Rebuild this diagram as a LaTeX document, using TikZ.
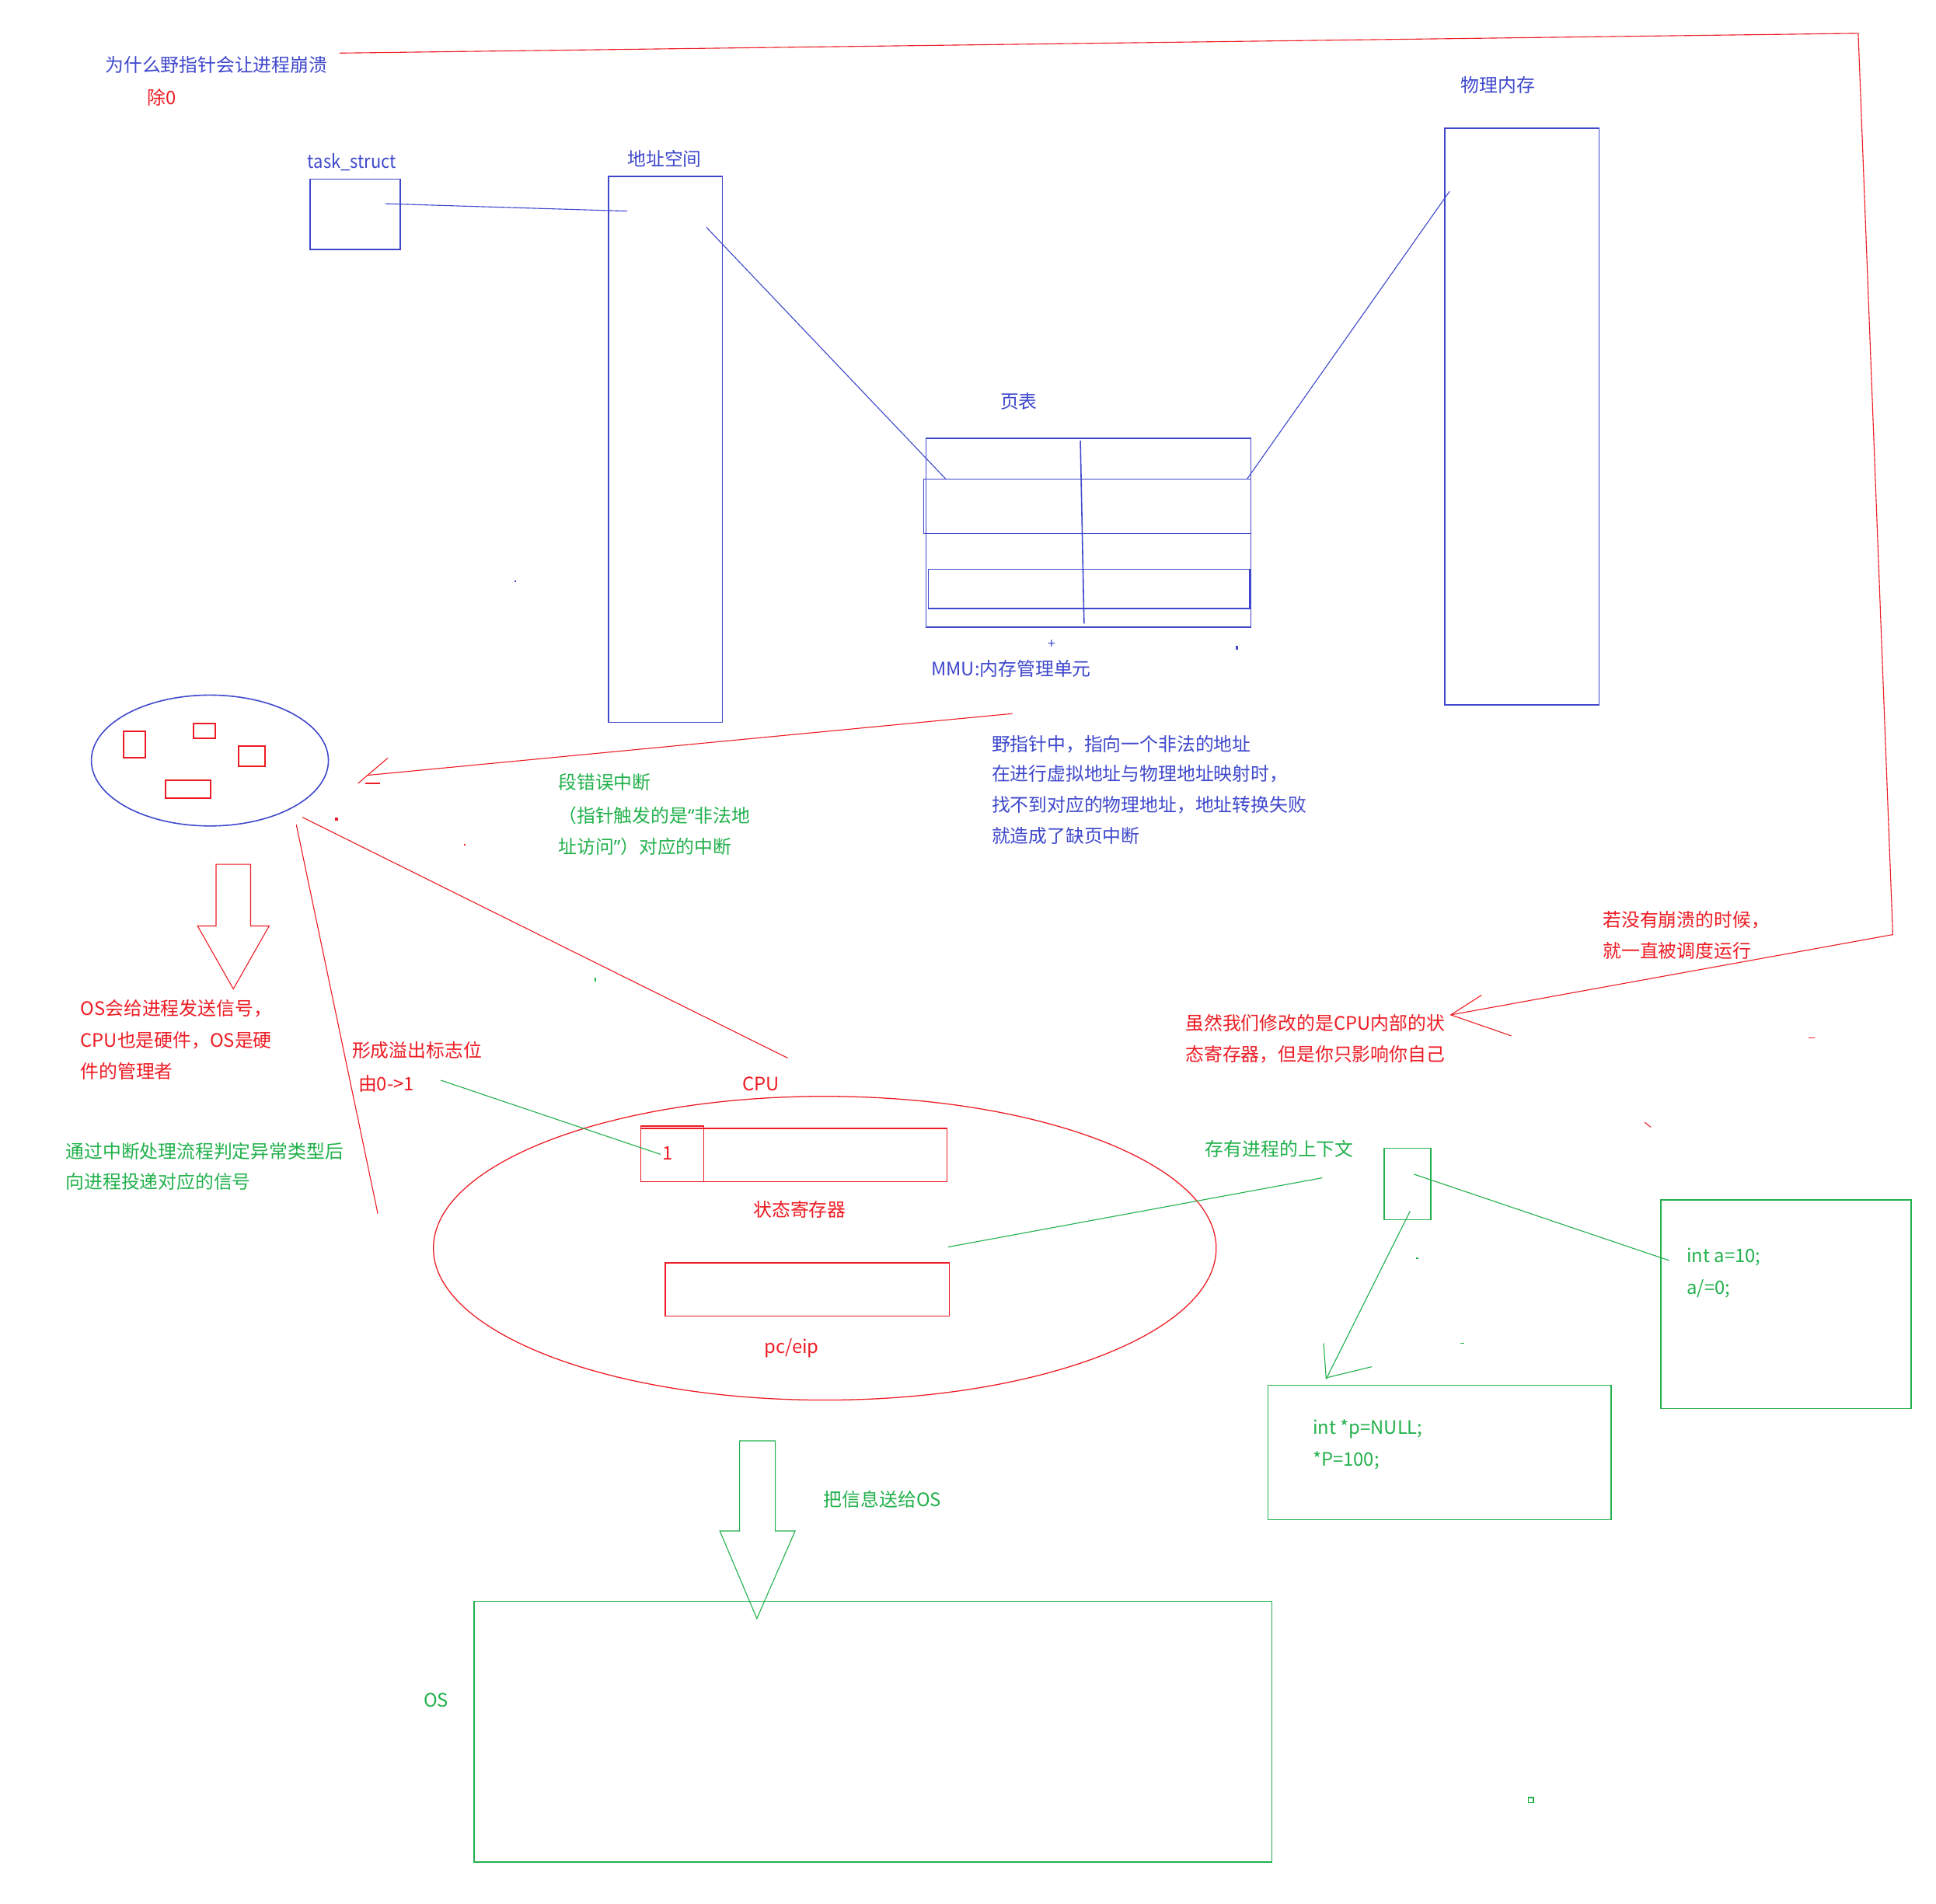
\documentclass[tikz,border=0pt]{standalone}
\usepackage{fontspec}
\setmainfont{Noto Sans CJK SC}
\newfontfamily\qfont{Noto Sans}
\usetikzlibrary{shapes.geometric}
\definecolor{cblue}{HTML}{3F48CC}
\definecolor{cred}{HTML}{ED1C24}
\definecolor{cgreen}{HTML}{22B14C}
\tikzset{
  box/.style={rectangle, inner sep=0pt, outer sep=0pt, anchor=north west, line width=1pt},
  txt/.style={inner sep=0pt, anchor=base west, font=\fontsize{15}{18}\selectfont},
  ln/.style={line width=0.7pt},
  bbox/.style={box, draw=cblue},
  rbox/.style={box, draw=cred},
  gbox/.style={box, draw=cgreen},
}
\begin{document}
\begin{tikzpicture}[x=1pt,y=-1pt]
\fill[white] (0,0) rectangle (1568,1542);
\useasboundingbox (0,0) rectangle (1568,1542);

% ---------------- blue part ----------------
\node[txt, text=cblue] (title) at (85,58.5) {为什么野指针会让进程崩溃};
\node[txt, text=cred] (div0) at (119,84.5) {除0};

\node[txt, text=cblue] (tslbl) at (249,136.5) {\addfontfeature{FakeStretch=0.92}task\_struct};
\node[bbox, minimum width=73, minimum height=57] (ts) at (251,145) {};

\node[txt, text=cblue] (aslbl) at (508,134.5) {地址空间};
\node[bbox, minimum width=92, minimum height=442] (as) at (493,143) {};

\node[txt, text=cblue] (pmlbl) at (1183,74.5) {物理内存};
\node[bbox, minimum width=125, minimum height=467] (pm) at (1170,104) {};

\node[txt, text=cblue] (ptlbl) at (810,330.5) {页表};
\node[bbox, minimum width=263, minimum height=153] (pt) at (750,355) {};
\node[bbox, minimum width=265, minimum height=44] (row1) at (748,388) {};
\node[bbox, minimum width=260, minimum height=32] (row2) at (752,461) {};
\coordinate (vtop) at (875,357);
\coordinate (vbot) at (878,505);
\draw[cblue, line width=1pt] (vtop) -- (vbot);

\coordinate (tsA) at (312,165);
\coordinate (asA) at (508,171);
\draw[cblue, ln] (tsA) -- (asA);
\coordinate (asB) at (572,184);
\coordinate (ptA) at (766,388);
\draw[cblue, ln] (asB) -- (ptA);
\coordinate (pmA) at (1174,155);
\coordinate (ptB) at (1010,388);
\draw[cblue, ln] (pmA) -- (ptB);

\node[inner sep=0pt, text=cblue, font=\fontsize{11}{11}\selectfont] (plus) at (852,522) {+};
\fill[cblue] (1001,523) rectangle (1003,526);
\fill[cblue] (416.5,470.5) rectangle (418,471.5);

\node[txt, text=cblue] (mmu) at (754,547.5) {MMU:内存管理单元};

\node[txt, text=cblue] (b1) at (803,608.5) {野指针中，指向一个非法的地址};
\node[txt, text=cblue] (b2) at (803,632.5) {在进行虚拟地址与物理地址映射时，};
\node[txt, text=cblue] (b3) at (803,657.5) {找不到对应的物理地址，地址转换失败};
\node[txt, text=cblue] (b4) at (803,682.5) {就造成了缺页中断};

% ---------------- process ellipse ----------------
\node[ellipse, draw=cblue, line width=1pt, minimum width=192, minimum height=106, inner sep=0pt] (proc) at (170,616) {};
\node[rbox, minimum width=17.5, minimum height=21.5] (r1) at (100.2,592.3) {};
\node[rbox, minimum width=17.5, minimum height=12] (r2) at (156.8,586) {};
\node[rbox, minimum width=21.5, minimum height=16.3] (r3) at (193.2,604.3) {};
\node[rbox, minimum width=36.5, minimum height=14.3] (r4) at (134.1,632) {};

% MMU -> process arrow
\coordinate (mmuA) at (820,578);
\coordinate (procA) at (297,628);
\draw[cred, ln] (mmuA) -- (procA);
\coordinate (ahA) at (314,614);
\coordinate (ahB) at (290,634.5);
\coordinate (ahC) at (296,634.5);
\coordinate (ahD) at (308,634.5);
\draw[cred, ln] (ahA) -- (ahB);
\draw[cred, ln] (ahC) -- (ahD);

\node[txt, text=cgreen] (g1) at (452,639.5) {段错误中断};
\node[txt, text=cgreen] (g2) at (452,666.5) {（指针触发的是{\qfont “}非法地};
\node[txt, text=cgreen] (g3) at (452,691.5) {址访问{\qfont ”}）对应的中断};

% red small dots
\fill[cred] (271,662) rectangle (273.5,664.5);
\fill[cred] (375.5,683.5) rectangle (377,685);
\fill[cgreen] (481.5,792) rectangle (482.5,795);
\draw[cred, ln] (1465,840.5) -- (1470,840.5);
\draw[cred, ln] (1332,909) -- (1337,913);

% lines from process to CPU
\coordinate (procB) at (245,662);
\coordinate (cpuA) at (638,857);
\draw[cred, ln] (procB) -- (cpuA);
\coordinate (procC) at (240,668);
\coordinate (procD) at (306,983);
\draw[cred, ln] (procC) -- (procD);

% hollow red arrow
\draw[cred, ln, line join=miter] (175,700) -- (203,700) -- (203,750) -- (218,750) -- (189,801) -- (160,750) -- (175,750) -- cycle;

\node[txt, text=cred] (o1) at (65,822.5) {OS会给进程发送信号，};
\node[txt, text=cred] (o2) at (65,848.5) {CPU也是硬件，OS是硬};
\node[txt, text=cred] (o3) at (65,873.5) {件的管理者};

\node[txt, text=cgreen] (t1) at (53,938.5) {通过中断处理流程判定异常类型后};
\node[txt, text=cgreen] (t2) at (53,962.5) {向进程投递对应的信号};

\node[txt, text=cred] (f1) at (285,856.5) {形成溢出标志位};
\node[txt, text=cred] (f2) at (290,883.5) {由0->1};

% ---------------- CPU ----------------
\node[txt, text=cred] (cpulbl) at (601,883.5) {CPU};
\node[ellipse, draw=cred, line width=0.8pt, minimum width=634, minimum height=246, inner sep=0pt] (cpu) at (668,1011) {};
\node[rbox, minimum width=248, minimum height=43] (sr) at (519,914) {};
\node[rbox, minimum width=51, minimum height=45] (bit) at (519,912) {};
\node[inner sep=0pt, text=cred, font=\fontsize{15}{18}\selectfont] (one) at (541,934) {1};
\node[txt, text=cred] (srlbl) at (610,985.5) {状态寄存器};
\node[rbox, minimum width=230, minimum height=43] (pc) at (539,1023) {};
\node[txt, text=cred] (pclbl) at (619,1096.5) {pc/eip};

\coordinate (flagA) at (357,875);
\coordinate (bitA) at (535,935);
\draw[cgreen, ln] (flagA) -- (bitA);

% ---------------- context ----------------
\node[txt, text=cgreen] (ctxlbl) at (976,936.5) {存有进程的上下文};
\coordinate (cpuB) at (768,1010);
\coordinate (ctxA) at (1071,954);
\draw[cgreen, ln] (cpuB) -- (ctxA);
\node[gbox, minimum width=38, minimum height=58] (ctx) at (1121,930) {};

\coordinate (ctxB) at (1145,951);
\coordinate (codeA) at (1352,1021);
\draw[cgreen, ln] (ctxB) -- (codeA);
\node[gbox, minimum width=203, minimum height=169] (code1) at (1345,972) {};
\node[txt, text=cgreen] (c1) at (1366,1022.5) {int a=10;};
\node[txt, text=cgreen] (c2) at (1366,1048.5) {a/=0;};

\coordinate (ctxC) at (1142,981);
\coordinate (code2A) at (1074,1117);
\draw[cgreen, ln] (ctxC) -- (code2A);
\coordinate (agA) at (1072,1088);
\coordinate (agB) at (1074,1116);
\coordinate (agC) at (1111,1107);
\draw[cgreen, ln] (agA) -- (agB) -- (agC);

\node[gbox, minimum width=278, minimum height=109] (code2) at (1027,1122) {};
\node[txt, text=cgreen] (c3) at (1063,1161.5) {int *p=NULL;};
\node[txt, text=cgreen] (c4) at (1063,1187.5) {*P=100;};

\fill[cgreen] (1147,1018.5) rectangle (1149,1020);
\fill[cgreen] (1183,1087.5) rectangle (1186,1088.5);

% ---------------- OS ----------------
\draw[cgreen, ln, line join=miter] (599,1167) -- (628,1167) -- (628,1240) -- (644,1240) -- (613,1311) -- (583,1240) -- (599,1240) -- cycle;
\node[txt, text=cgreen] (send) at (667,1220.5) {把信息送给OS};
\node[txt, text=cgreen] (oslbl) at (343,1382.5) {OS};
\node[gbox, minimum width=646, minimum height=211] (os) at (384,1297) {};
\draw[cgreen, line width=0.8pt] (1238,1456) rectangle (1242,1460);

% ---------------- red loop ----------------
\node[txt, text=cred] (n1) at (1298,750.5) {若没有崩溃的时候，};
\node[txt, text=cred] (n2) at (1298,775.5) {就一直被调度运行};
\node[txt, text=cred] (s1) at (960,834.5) {虽然我们修改的是CPU内部的状};
\node[txt, text=cred] (s2) at (960,859.5) {态寄存器，但是你只影响你自己};

\coordinate (loopA) at (275,43);
\coordinate (loopB) at (1505,27);
\coordinate (loopC) at (1533,757);
\coordinate (loopD) at (1175,822);
\draw[cred, ln] (loopA) -- (loopB) -- (loopC) -- (loopD);
\coordinate (lhA) at (1200,806);
\coordinate (lhB) at (1224,839);
\draw[cred, ln] (lhA) -- (loopD) -- (lhB);
\end{tikzpicture}
\end{document}
